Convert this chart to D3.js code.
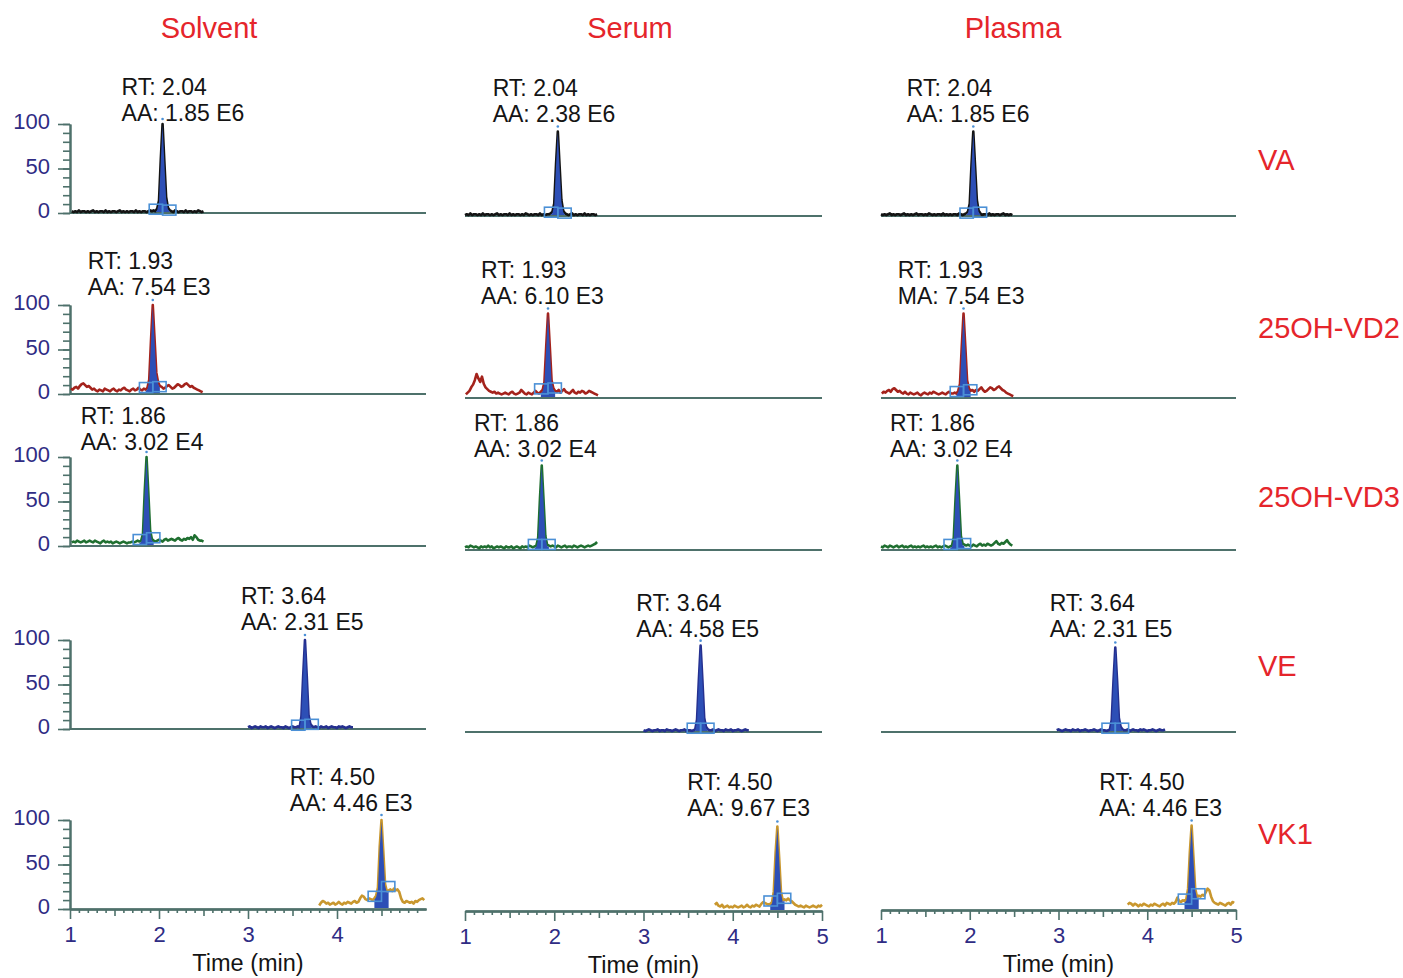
<!DOCTYPE html>
<html>
<head>
<meta charset="utf-8">
<script src="https://cdn.jsdelivr.net/npm/d3@7"></script>
<style>
body { margin: 0; background: #fff; }
svg text { font-family: "Liberation Sans", Arial, Helvetica, sans-serif; }
</style>
</head>
<body>
<div id="chart"></div>
<script>
// ---- data ----
var columns = ["Solvent", "Serum", "Plasma"];
var compounds = ["VA", "25OH-VD2", "25OH-VD3", "VE", "VK1"];
var peakTimes = [2.04, 1.93, 1.86, 3.64, 4.50];
var rtLabels = ["RT: 2.04", "RT: 1.93", "RT: 1.86", "RT: 3.64", "RT: 4.50"];
var areaLabels = [
    ["AA: 1.85 E6", "AA: 2.38 E6", "AA: 1.85 E6"],
    ["AA: 7.54 E3", "AA: 6.10 E3", "MA: 7.54 E3"],
    ["AA: 3.02 E4", "AA: 3.02 E4", "AA: 3.02 E4"],
    ["AA: 2.31 E5", "AA: 4.58 E5", "AA: 2.31 E5"],
    ["AA: 4.46 E3", "AA: 9.67 E3", "AA: 4.46 E3"]
];
// where the annotation sits, in [time, relative abundance]
var labelAnchors = [
    [[1.58, 142], [1.31, 144], [1.29, 144]],
    [[1.20, 149], [1.18, 144], [1.19, 144]],
    [[1.12, 146], [1.10, 143], [1.10, 143]],
    [[2.92, 149], [2.92, 145], [2.90, 145]],
    [[3.47, 148], [3.49, 145], [3.46, 144]]
];
var yTickValues = [0, 10, 20, 30, 40, 50, 60, 70, 80, 90, 100];
var yTickLabels = [0, 50, 100];
var xMajorTicks = [[1, 2, 3, 4], [1, 2, 3, 4, 5], [1, 2, 3, 4, 5]];
var xHalfTicks = [1.5, 2.5, 3.5, 4.5];

// trace start time per panel, sampled every 0.02 min
var traceStarts = [[1.02, 1.00, 1.00], [1.01, 1.01, 1.01], [1.02, 1.00, 1.00], [3.00, 3.00, 2.98], [3.80, 3.80, 3.78]];
var traceStep = 0.02;

var vaSolvent = [2,1,2,1,3,1,2,2,1,2,1,2,3,1,2,1,2,2,1,3,1,2,1,2,2,1,2,3,1,2,1,2,1,2,2,1,3,1,2,1,2,2,1,2,3,
    2,3,2,5,14,60,100,58,18,6,3,
    2,1,3,2,1,2,2,1,3,1,2,2,1,2,1,3,2,1,2];
var vaSerum = [1,2,1,3,1,2,2,1,2,1,3,1,2,2,1,2,1,2,3,1,2,1,2,2,1,3,1,2,1,2,2,1,2,1,3,2,1,2,1,2,2,1,3,1,2,1,2,2,
    3,5,14,58,95,56,18,6,3,
    2,1,2,3,1,2,1,2,2,1,3,1,2,1,2,2,1,2];
var vaPlasma = [2,1,2,1,2,3,1,2,1,2,2,1,2,3,1,2,1,2,1,2,3,1,2,2,1,2,1,3,2,1,2,1,2,2,1,3,1,2,1,2,1,2,2,1,3,2,1,2,
    3,5,14,58,95,56,18,6,3,
    1,2,2,1,3,1,2,1,2,2,1,2,3,1,2,1,2,1];

var vd2Solvent = [6,5,7,8,6,9,11,12,10,8,9,7,5,6,4,3,5,4,3,6,5,4,3,5,6,4,3,5,4,6,7,5,4,3,5,6,4,5,7,5,4,6,5,7,16,60,
    100,62,24,13,9,8,
    6,7,9,10,8,6,7,9,11,10,8,9,11,12,10,8,9,7,6,5,4,3,2];
var vd2Serum = [4,6,8,12,15,20,27,22,18,24,16,12,10,8,7,6,7,5,6,5,
    4,5,6,5,4,6,7,5,4,5,6,9,7,5,4,6,5,4,6,8,6,5,7,9,
    18,58,95,58,20,11,8,
    7,9,6,8,10,7,6,5,7,9,6,5,7,6,8,7,5,6,8,7,6,5,4,3];
var vd2Plasma = [5,7,6,8,9,7,10,11,9,7,8,6,5,7,5,4,6,5,4,5,6,4,3,5,6,5,4,6,5,7,6,5,4,5,6,5,4,6,7,5,5,6,5,8,16,58,
    95,58,20,11,8,9,
    7,9,8,10,12,9,7,8,10,12,11,9,10,12,13,11,9,8,6,5,4,3,2];

var vd3Solvent = [4,5,4,6,5,4,5,6,4,5,6,5,4,6,5,4,3,5,6,4,5,4,5,3,4,5,4,3,4,5,4,3,4,4,5,4,5,6,5,6,
    14,62,100,60,18,8,6,
    5,6,7,6,5,7,8,6,7,8,7,6,8,9,7,6,8,7,9,8,10,7,12,10,7,6,6,5];
var vd3Serum = [3,4,3,5,4,3,4,3,2,4,3,4,3,5,3,4,2,3,4,3,4,3,2,4,3,3,4,2,3,4,3,2,4,3,4,3,5,4,3,4,5,
    14,58,95,56,16,6,5,
    4,5,4,3,5,4,3,4,5,3,4,4,3,5,4,3,4,5,4,3,4,5,4,5,6,7,9];
var vd3Plasma = [4,3,5,4,3,5,4,3,4,5,3,4,5,3,4,3,4,5,3,4,3,4,3,4,5,3,4,3,4,3,4,5,3,4,3,4,5,4,3,4,5,
    14,58,95,56,16,7,6,
    5,6,5,4,6,5,4,6,7,5,6,5,7,6,5,6,8,10,7,6,8,7,9,11,8,6,5];

var veSolvent = [2,3,1,2,3,2,1,3,2,2,3,1,2,3,2,1,2,3,2,2,1,3,2,1,2,3,2,2,3,2,
    14,60,100,60,16,6,
    3,2,3,2,1,3,2,2,3,1,2,3,2,2,1,3,2,3,2,1,2,3,2,2];
var veSerum = [2,1,2,3,2,1,2,2,3,1,2,2,1,3,2,2,1,2,3,2,1,2,2,3,1,2,2,1,2,3,
    14,58,97,58,16,6,
    3,2,2,3,1,2,3,2,2,1,3,2,2,3,1,2,2,3,2,1,2,3,2,2];
var vePlasma = [2,3,2,1,2,3,2,2,1,3,2,2,3,1,2,2,3,2,1,2,2,3,2,1,2,3,2,2,1,2,3,
    14,58,95,58,16,6,
    3,2,2,3,1,2,3,2,2,1,3,2,3,2,1,2,2,3,2,1,2,3,2,2,3];

var vk1Solvent = [4,7,9,8,6,7,5,6,7,5,6,8,6,5,7,6,8,7,6,8,9,7,8,
    12,15,14,11,10,12,11,10,12,
    15,24,70,100,65,28,20,
    21,22,20,23,21,22,19,12,8,7,9,8,7,8,6,9,8,10,11,12,10];
var vk1Serum = [7,9,6,5,7,4,5,6,4,5,4,6,5,4,5,6,4,5,7,5,4,6,5,7,6,5,8,
    10,9,8,7,8,10,
    22,65,95,60,22,12,
    13,12,14,12,11,9,7,6,5,6,5,4,6,5,4,5,6,5,4,6,5,7];
var vk1Plasma = [6,8,7,5,7,6,4,6,5,7,6,5,4,6,5,7,6,5,4,6,7,5,8,7,6,8,7,9,
    14,10,9,11,10,12,
    24,65,95,60,24,15,
    16,15,17,16,20,24,22,15,10,8,7,6,8,7,6,5,7,8,6,9,8];

var traces = [
    [vaSolvent, vaSerum, vaPlasma],
    [vd2Solvent, vd2Serum, vd2Plasma],
    [vd3Solvent, vd3Serum, vd3Plasma],
    [veSolvent, veSerum, vePlasma],
    [vk1Solvent, vk1Serum, vk1Plasma]
];

// ---- layout ----
var W = 1403, H = 978;
var colRange = [[70, 426], [465, 822], [881, 1236]];
var rowBase = [[213, 216, 216], [394, 398, 398], [546, 550, 550], [729, 732, 732], [909, 911, 910]];
var panelH = 89;
var headerX = [209, 630, 1013];
var rowLabelY = [160, 328, 497, 666, 834];

var traceColors = ['#141414', '#a4231c', '#1f6f30', '#25308f', '#c9972e'];
var axisColor = '#4e716b';
var tickColor = '#2f2c84';
var red = '#e5252b';
var peakBlue = '#2d4fb6';
var boxBlue = '#4b90d6';
var fontSize = 22;

var svg = d3.select('#chart').append('svg')
    .attr('width', W)
    .attr('height', H);

// column headers
svg.selectAll('.colhead')
    .data(columns)
    .enter().append('text')
    .attr('class', 'colhead')
    .attr('x', function (d, i) { return headerX[i]; })
    .attr('y', 28)
    .attr('dominant-baseline', 'central')
    .attr('text-anchor', 'middle')
    .attr('font-size', 29)
    .attr('fill', red)
    .text(function (d) { return d; });

// row labels
svg.selectAll('.rowlab')
    .data(compounds)
    .enter().append('text')
    .attr('class', 'rowlab')
    .attr('x', 1258)
    .attr('y', function (d, i) { return rowLabelY[i]; })
    .attr('dominant-baseline', 'central')
    .attr('font-size', 29)
    .attr('fill', red)
    .text(function (d) { return d; });

function valueAt(pts, t) {
    var best = pts[0];
    pts.forEach(function (p) { if (Math.abs(p.t - t) < Math.abs(best.t - t)) best = p; });
    return best.v;
}

function styleAxis(g) {
    g.attr('font-size', fontSize).attr('font-family', '"Liberation Sans", Arial, sans-serif');
    g.selectAll('.domain').attr('stroke', axisColor).attr('stroke-width', 2);
    g.selectAll('.tick line').attr('stroke', axisColor).attr('stroke-width', 1.6);
    g.selectAll('.tick text').attr('fill', tickColor);
}

compounds.forEach(function (comp, r) {
    columns.forEach(function (col, c) {
        var x = d3.scaleLinear().domain([1, 5]).range(colRange[c]);
        var y = d3.scaleLinear().domain([0, 100]).range([rowBase[r][c], rowBase[r][c] - panelH]);
        var g = svg.append('g');
        var last = r === compounds.length - 1;

        // baseline / x axis
        if (!last) {
            g.append('line')
                .attr('x1', x(1)).attr('x2', x(5))
                .attr('y1', y(0)).attr('y2', y(0))
                .attr('stroke', axisColor)
                .attr('stroke-width', 2);
        } else {
            var xEnd = c === 0 ? 4.95 : 5.01;
            var minor = d3.range(1, xEnd, 0.1).filter(function (t) {
                return Math.abs(t * 2 - Math.round(t * 2)) > 0.01;
            });
            var xMinorG = g.append('g').attr('transform', 'translate(0,' + y(0) + ')')
                .call(d3.axisBottom(x).tickValues(minor).tickSize(4).tickSizeOuter(0).tickFormat(''));
            styleAxis(xMinorG);
            var xHalfG = g.append('g').attr('transform', 'translate(0,' + y(0) + ')')
                .call(d3.axisBottom(x).tickValues(xHalfTicks).tickSize(7).tickSizeOuter(0).tickFormat(''));
            styleAxis(xHalfG);
            var xMajorG = g.append('g').attr('transform', 'translate(0,' + y(0) + ')')
                .call(d3.axisBottom(x).tickValues(xMajorTicks[c]).tickSize(10).tickSizeOuter(0).tickPadding(7)
                    .tickFormat(d3.format('d')));
            styleAxis(xMajorG);

            g.append('text')
                .attr('x', x(3))
                .attr('y', y(0) + 54)
                .attr('dominant-baseline', 'central')
                .attr('text-anchor', 'middle')
                .attr('font-size', 23.5)
                .attr('fill', '#141414')
                .text('Time (min)');
        }

        // y axis only for the solvent column
        if (c === 0) {
            var yMinorG = g.append('g').attr('transform', 'translate(' + x(1) + ',0)')
                .call(d3.axisLeft(y).tickValues(yTickValues).tickSize(7).tickSizeOuter(0).tickFormat(''));
            styleAxis(yMinorG);
            var yMajorG = g.append('g').attr('transform', 'translate(' + x(1) + ',0)')
                .call(d3.axisLeft(y).tickValues(yTickLabels).tickSize(12).tickSizeOuter(0).tickPadding(8));
            styleAxis(yMajorG);
            yMajorG.selectAll('.tick text').attr('dy', '0.22em');
        }

        var t0 = traceStarts[r][c];
        var pts = traces[r][c].map(function (v, i) { return { t: t0 + i * traceStep, v: v }; });
        var pk = peakTimes[r];

        var line = d3.line()
            .x(function (d) { return x(d.t); })
            .y(function (d) { return y(d.v); });

        g.append('path')
            .attr('d', line(pts))
            .attr('fill', 'none')
            .attr('stroke', traceColors[r])
            .attr('stroke-width', 2.6)
            .attr('stroke-linejoin', 'round');

        // integrated peak area
        var peakPts = pts.filter(function (d) { return d.t >= pk - 0.081 && d.t <= pk + 0.081; });
        var area = d3.area()
            .x(function (d) { return x(d.t); })
            .y0(y(0) - 1)
            .y1(function (d) { return y(d.v) + 1.4; });
        g.append('path')
            .attr('d', area(peakPts))
            .attr('fill', peakBlue);

        // peak start / end boxes
        var boxes = [[pk - 0.15, pk], [pk, pk + 0.15]];
        boxes.forEach(function (b, k) {
            var v = valueAt(pts, k === 0 ? b[0] + 0.02 : b[1] - 0.02);
            g.append('rect')
                .attr('x', x(b[0]))
                .attr('width', x(b[1]) - x(b[0]))
                .attr('y', y(v) - 7)
                .attr('height', 10)
                .attr('fill', 'none')
                .attr('stroke', boxBlue)
                .attr('stroke-width', 1.6);
        });

        // apex marker
        var top = d3.max(peakPts, function (d) { return d.v; });
        g.append('circle')
            .attr('cx', x(pk))
            .attr('cy', y(top) - 5)
            .attr('r', 1.3)
            .attr('fill', boxBlue);

        // annotation
        var anc = labelAnchors[r][c];
        var ann = g.append('text')
            .attr('x', x(anc[0]))
            .attr('y', y(anc[1]))
            .attr('font-size', 23)
            .attr('fill', '#141414')
            .attr('dominant-baseline', 'central');
        ann.append('tspan').attr('x', x(anc[0])).text(rtLabels[r]);
        ann.append('tspan').attr('x', x(anc[0])).attr('dy', 26).text(areaLabels[r][c]);
    });
});
</script>
</body>
</html>
